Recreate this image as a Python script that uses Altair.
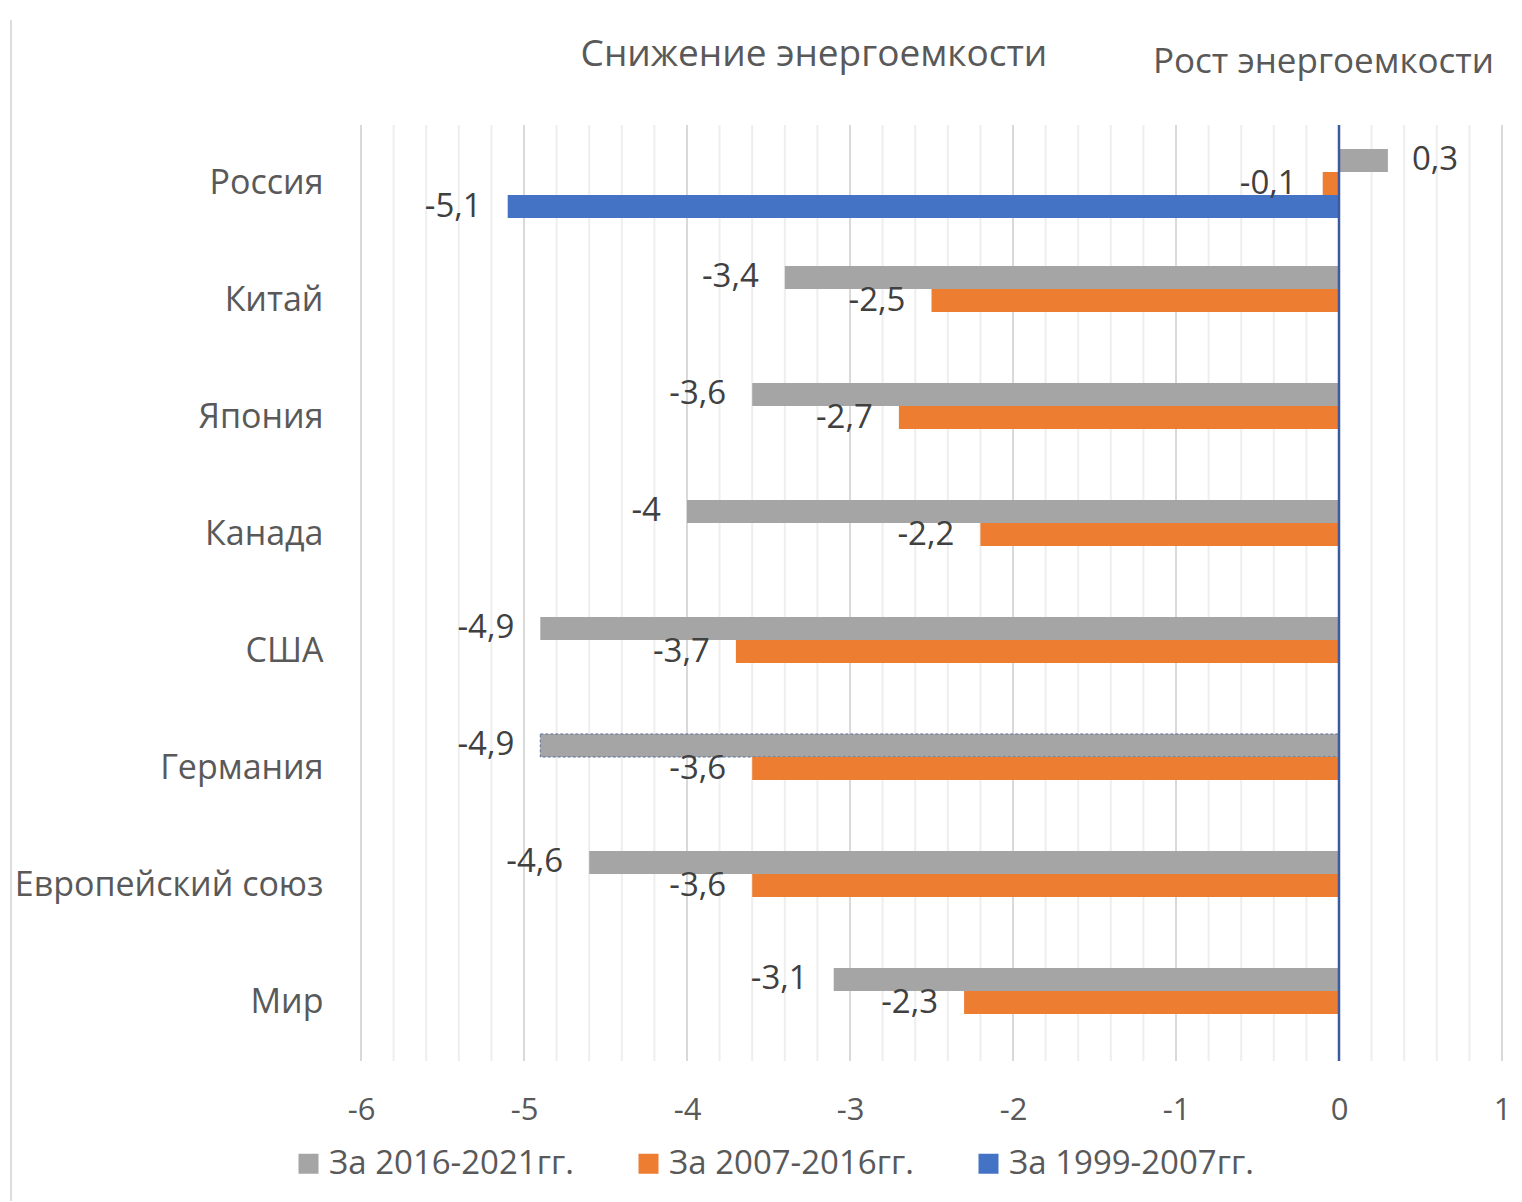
import altair as alt
import pandas as pd

countries = ["Россия", "Китай", "Япония", "Канада", "США", "Германия", "Европейский союз", "Мир"]
series = ["За 2016-2021гг.", "За 2007-2016гг.", "За 1999-2007гг."]
colors = ["#A5A5A5", "#ED7D31", "#4472C4"]
v_2016_2021 = [0.3, -3.4, -3.6, -4.0, -4.9, -4.9, -4.6, -3.1]
v_2007_2016 = [-0.1, -2.5, -2.7, -2.2, -3.7, -3.6, -3.6, -2.3]
v_1999_2007 = [-5.1, None, None, None, None, None, None, None]
x_ticks = [-6, -5, -4, -3, -2, -1, 0, 1]
headers = ["Снижение энергоемкости", "Рост энергоемкости"]

rows = []
for s, vals in zip(series, [v_2016_2021, v_2007_2016, v_1999_2007]):
    for c, v in zip(countries, vals):
        if v is None:
            continue
        lab = (str(int(v)) if float(v).is_integer() else str(v)).replace(".", ",")
        rows.append({"country": c, "series": s, "value": v, "label": lab})
df = pd.DataFrame(rows)

minor_grid = pd.DataFrame({"g": [round(-6 + 0.2 * i, 1) for i in range(36) if i % 5 != 0]})
major_grid = pd.DataFrame({"g": x_ticks})

FONT = "Open Sans"
TXT = "#595959"

x_scale = alt.Scale(domain=[-6, 1], nice=False, zero=False)

y_enc = alt.Y("country:N", sort=countries, title=None,
              scale=alt.Scale(paddingInner=0.41, paddingOuter=0.205),
              axis=alt.Axis(labelFontSize=34, labelColor=TXT, labelFont=FONT, labelLimit=600,
                            labelPadding=38, ticks=False, domain=False, grid=False))
yoff = alt.YOffset("series:N", sort=series, scale=alt.Scale(domain=series, paddingInner=0, paddingOuter=0))

g_minor = alt.Chart(minor_grid).mark_rule(color="#EEEEEE", strokeWidth=2).encode(
    x=alt.X("g:Q", scale=x_scale, title=None,
            axis=alt.Axis(values=x_ticks, grid=False, ticks=False, domain=False,
                          labelExpr="'' + datum.value",
                          labelFontSize=31, labelColor=TXT, labelFont=FONT,
                          labelPadding=34, labelFlush=False, labelOverlap=False)))
g_major = alt.Chart(major_grid).mark_rule(color="#D9D9D9", strokeWidth=2).encode(
    x=alt.X("g:Q", scale=x_scale))

bars = alt.Chart(df).mark_bar().encode(
    x=alt.X("value:Q", scale=x_scale),
    x2=alt.datum(0),
    y=y_enc,
    yOffset=yoff,
    color=alt.Color("series:N", sort=series, scale=alt.Scale(domain=series, range=colors),
                    legend=alt.Legend(title=None, orient="none", direction="horizontal",
                                      legendX=-69, legendY=1022, symbolType="square",
                                      symbolSize=400, symbolStrokeWidth=0, labelFontSize=33,
                                      labelColor=TXT, labelFont=FONT, columnPadding=58,
                                      labelOffset=4, padding=0, labelLimit=500)),
    stroke=alt.condition("datum.country == 'Германия' && datum.series == 'За 2016-2021гг.'",
                         alt.value("#5A6E96"), alt.value(None)),
    strokeDash=alt.condition("datum.country == 'Германия' && datum.series == 'За 2016-2021гг.'",
                             alt.value([3, 2]), alt.value([1, 0])),
)

neg = alt.Chart(df).transform_filter("datum.value < 0").mark_text(
    align="right", baseline="middle", dx=-26, fontSize=33, font=FONT, color="#404040"
).encode(x=alt.X("value:Q", scale=x_scale), y=alt.Y("country:N", sort=countries), yOffset=yoff, text="label:N")

pos = alt.Chart(df).transform_filter("datum.value >= 0").mark_text(
    align="left", baseline="middle", dx=24, fontSize=33, font=FONT, color="#404040"
).encode(x=alt.X("value:Q", scale=x_scale), y=alt.Y("country:N", sort=countries), yOffset=yoff, text="label:N")

zero = alt.Chart(pd.DataFrame({"x": [0]})).mark_rule(color="#3B5AA0", strokeWidth=2.5).encode(
    x=alt.X("x:Q", scale=x_scale))

hdr = pd.DataFrame({"t": headers})
h1 = alt.Chart(hdr.iloc[[0]]).mark_text(align="center", baseline="middle", fontSize=37, font=FONT, color=TXT).encode(
    x=alt.value(453), y=alt.value(-70), text="t:N")
h2 = alt.Chart(hdr.iloc[[1]]).mark_text(align="left", baseline="middle", fontSize=35, font=FONT, color=TXT).encode(
    x=alt.value(792), y=alt.value(-63), text="t:N")

border = alt.Chart(hdr.iloc[[0]]).mark_rule(color="#DDDDDD", strokeWidth=2).encode(
    x=alt.value(-350), y=alt.value(-105), y2=alt.value(1085))

chart = alt.layer(g_minor, g_major, border, bars, zero, neg, pos, h1, h2).properties(
    width=1141, height=936,
    autosize=alt.AutoSizeParams(type="none"),
    padding={"left": 353, "top": 117, "right": 12, "bottom": 140},
    background="white",
).configure_view(stroke=None)

chart.save("out.html", embed_options={"renderer": "svg", "actions": False})
